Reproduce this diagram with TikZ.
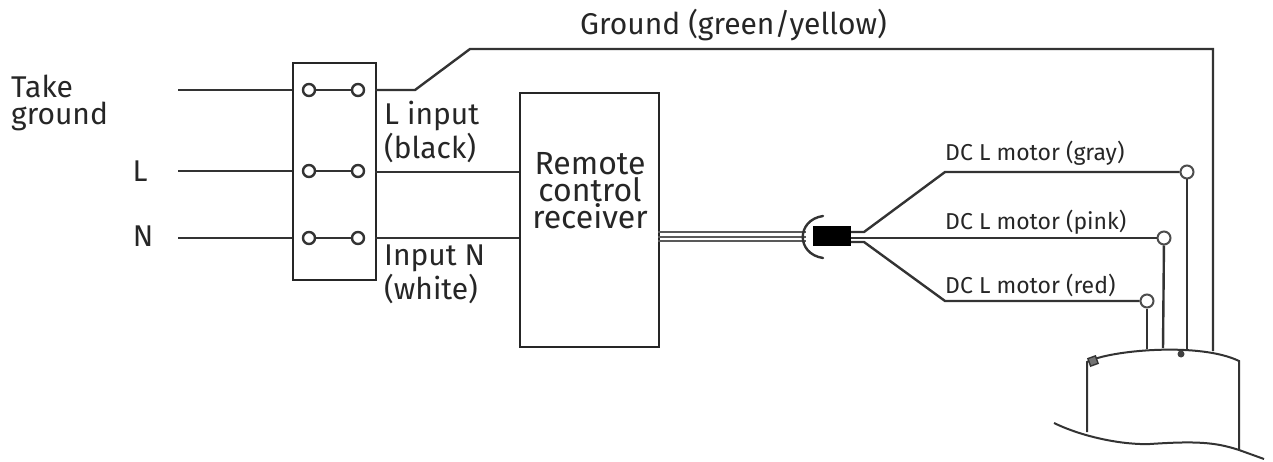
\documentclass[tikz,border=0pt]{standalone}
\usepackage{fontspec}
\setmainfont{Fira Sans}
\usetikzlibrary{positioning}
\tikzset{
	wire/.style = {draw = black!80, line width = 2.4pt},
	thinwire/.style = {draw = black!65, line width = 2pt},
	terminal/.style = {circle, draw = black!80, fill = white, line width = 2.4pt, minimum size = 12pt, inner sep = 0pt},
	smallterm/.style = {circle, draw = black!70, fill = white, line width = 2pt, minimum size = 13pt, inner sep = 0pt},
	box/.style = {draw = black!85, line width = 2.2pt, fill = white, inner sep = 0pt, anchor = north west},
	biglabel/.style = {font = \fontsize{30}{27}\selectfont, inner sep = 0pt, text = black!85, align = left},
	widelabel/.style = {font = \fontsize{30}{34}\selectfont, inner sep = 0pt, text = black!85, align = left, anchor = west},
	motorlabel/.style = {font = \fontsize{23}{24}\selectfont, inner sep = 0pt, text = black!85, anchor = west}
}
\begin{document}
\begin{tikzpicture}[x = 1pt, y = -1pt]
		\useasboundingbox (0,0) rectangle (1273,462);
		% switch block and receiver
		\node (switch) [box, minimum width = 83pt, minimum height = 217pt] at (292,62) {};
		\node (receiver) [box, minimum width = 139pt, minimum height = 254pt] at (519,92) {};
		\node (rxtext) [biglabel, align = center, font = \fontsize{32}{27}\selectfont] at (590,191) {Remote\\control\\receiver};
		% terminals
		\node (a1) [terminal] at (309,90) {};
		\node (b1) [terminal] at (358,90) {};
		\node (a2) [terminal] at (309,171) {};
		\node (b2) [terminal] at (358,171) {};
		\node (a3) [terminal] at (309,238) {};
		\node (b3) [terminal] at (358,238) {};
		\path[wire]
		(a1) edge (b1)
		(a2) edge (b2)
		(a3) edge (b3);
		% mains side
		\coordinate (in1) at (178,90);
		\coordinate (in2) at (178,171);
		\coordinate (in3) at (178,238);
		\coordinate (out1) at (375,90);
		\coordinate (out2) at (375,172);
		\coordinate (out3) at (375,238);
		\coordinate (g1) at (415,90);
		\coordinate (g2) at (470,49);
		\coordinate (g3) at (1213,49);
		\coordinate (g4) at (1213,351);
		\draw[wire] (in1) -- (292,90);
		\draw[wire] (in2) -- (292,171);
		\draw[wire] (in3) -- (292,238);
		\draw[wire] (out1) -- (g1) -- (g2) -- (g3) -- (g4);
		\draw[wire] (out2) -- (519,172);
		\draw[wire] (out3) -- (519,238);
		% cable to the plug
		\node (plug) [fill = black, minimum width = 38pt, minimum height = 20pt, inner sep = 0pt] at (832,236) {};
		\coordinate (c1) at (658,232);
		\coordinate (c2) at (658,237);
		\coordinate (c3) at (658,241);
		\draw[thinwire] (c1) -- (806,232);
		\draw[thinwire] (c2) -- (806,237);
		\draw[thinwire] (c3) -- (806,241);
		\draw[wire, line cap = round] (823,216) .. controls (796,220) and (796,254) .. (823,258);
		% motor wires
		\node (tgray) [smallterm] at (1187,172) {};
		\node (tpink) [smallterm] at (1164,238) {};
		\node (tred) [smallterm] at (1147,301) {};
		\coordinate (f1) at (864,232);
		\coordinate (f2) at (945,172);
		\coordinate (f3) at (864,242);
		\coordinate (f4) at (945,301);
		\draw[wire] (plug.east |- f1) -- (f1) -- (f2) -- (tgray);
		\draw[wire] (plug.east |- tpink) -- (tpink);
		\draw[wire] (plug.east |- f3) -- (f3) -- (f4) -- (tred);
		\draw[wire] (tgray) -- (1187,349);
		\draw[wire] (tpink) -- (1163,348);
		\draw[wire] (tred) -- (1147,349);
		% motor
		\coordinate (m1) at (1087,362);
		\coordinate (m2) at (1239,361);
		\draw[wire, line width = 2pt] (1087,432) -- (m1) .. controls (1110,350) and (1200,342) .. (m2) -- (1239,450);
		\draw[wire, line width = 2pt] (1054,423) .. controls (1085,438) and (1125,445) .. (1150,444) .. controls (1195,441) and (1215,442) .. (1239,450) -- (1264,459);
		\node (mdot) [circle, fill = black!75, minimum size = 7pt, inner sep = 0pt] at (1181,354) {};
		\node (mtab) [draw = black!80, fill = black!55, line width = 1.4pt, rotate = 20, minimum width = 8pt, minimum height = 8pt, inner sep = 0pt] at (1093,361) {};
		% labels
		\node (ground) [biglabel, anchor = west] at (580,25) {Ground (green/yellow)};
		\node (take) [biglabel, anchor = west] at (11,103) {Take\\ground};
		\node (lname) [biglabel] at (140,171) {L};
		\node (nname) [biglabel] at (143,236) {N};
		\node (linput) [widelabel] at (384,132) {L input\\(black)};
		\node (ninput) [widelabel] at (384,274) {Input N\\(white)};
		\node (mgray) [motorlabel] at (945,153) {DC L motor (gray)};
		\node (mpink) [motorlabel] at (945,222) {DC L motor (pink)};
		\node (mred) [motorlabel] at (945,285) {DC L motor (red)};
		\end{tikzpicture}
\end{document}
